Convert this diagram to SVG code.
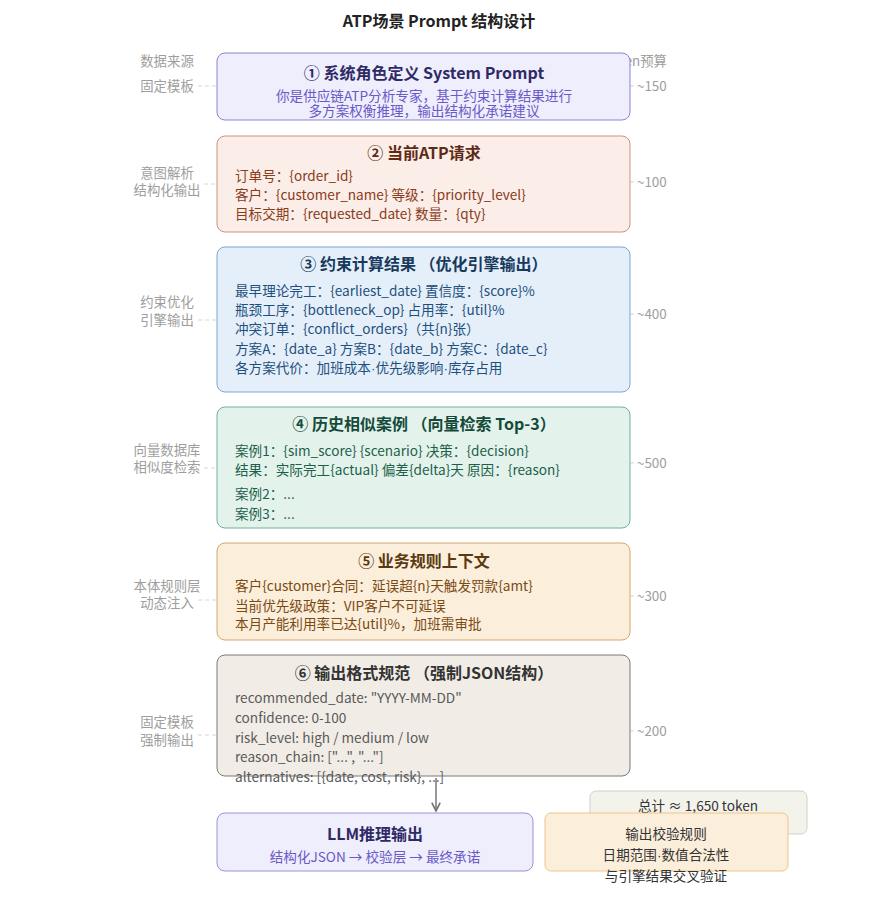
<svg xmlns="http://www.w3.org/2000/svg" width="879" height="918" viewBox="0 0 879 918">
<style>
text{font-family:"Noto Sans CJK SC","Liberation Sans",sans-serif}
.title{font-size:16px;font-weight:bold;fill:#222;text-anchor:middle}
.bt{font-size:16px;font-weight:bold;text-anchor:middle}
.ln{font-size:13.6px}
.side{font-size:13.4px;fill:#9e9e9e}
.dot{font-family:"Liberation Sans",sans-serif}
.dash{stroke:#d6d6d6;stroke-width:1;stroke-dasharray:4 3;fill:none}
</style>
<defs>
<marker id="ah" viewBox="0 0 10 10" refX="9" refY="5" markerWidth="7" markerHeight="7" orient="auto"><path d="M1,1 L9,5 L1,9" fill="none" stroke="#777" stroke-width="1.6"/></marker>
</defs>
<rect width="879" height="918" fill="#fff"/>
<text class="title" x="439" y="27">ATP场景 Prompt 结构设计</text>
<g id="headers">
<text class="side" x="167" y="66" text-anchor="middle">数据来源</text>
<text class="side" x="667" y="66" text-anchor="end">Token预算</text>
</g>
<g id="connectors">
<line class="dash" x1="198" y1="86" x2="217" y2="86"/><line class="dash" x1="630" y1="86" x2="637" y2="86"/>
<line class="dash" x1="204" y1="184" x2="217" y2="184"/><line class="dash" x1="630" y1="182" x2="637" y2="182"/>
<line class="dash" x1="198" y1="320" x2="217" y2="320"/><line class="dash" x1="630" y1="314" x2="637" y2="314"/>
<line class="dash" x1="204" y1="468" x2="217" y2="468"/><line class="dash" x1="630" y1="463" x2="637" y2="463"/>
<line class="dash" x1="198" y1="600" x2="217" y2="600"/><line class="dash" x1="630" y1="596" x2="637" y2="596"/>
<line class="dash" x1="198" y1="735" x2="217" y2="735"/><line class="dash" x1="630" y1="731" x2="637" y2="731"/>
<line x1="436" y1="778" x2="436" y2="811" stroke="#777" stroke-width="1.5" marker-end="url(#ah)"/>
</g>
<g id="n1">
<rect x="217" y="53" width="413" height="67" rx="8" fill="#eeeefc" stroke="#8b83d9"/>
<text class="bt" x="424" y="79" fill="#2f2a66">① 系统角色定义 System Prompt</text>
<text class="ln" x="424" y="101" text-anchor="middle" fill="#6a5ac8">你是供应链ATP分析专家，基于约束计算结果进行</text>
<text class="ln" x="424" y="116" text-anchor="middle" fill="#6a5ac8">多方案权衡推理，输出结构化承诺建议</text>
<text class="side" x="167" y="91" text-anchor="middle">固定模板</text>
<text class="side" x="637" y="91">~150</text>
</g>
<g id="n2">
<rect x="217" y="136" width="413" height="96" rx="8" fill="#fbede7" stroke="#cf937c"/>
<text class="bt" x="424" y="159" fill="#5e2a14">② 当前ATP请求</text>
<text class="ln" fill="#8a3b1b" x="235" y="181">订单号：{order_id}</text>
<text class="ln" fill="#8a3b1b" x="235" y="200">客户：{customer_name} 等级：{priority_level}</text>
<text class="ln" fill="#8a3b1b" x="235" y="219">目标交期：{requested_date} 数量：{qty}</text>
<text class="side" x="167" y="178" text-anchor="middle">意图解析</text>
<text class="side" x="167" y="195" text-anchor="middle">结构化输出</text>
<text class="side" x="637" y="187">~100</text>
</g>
<g id="n3">
<rect x="217" y="247" width="413" height="145" rx="8" fill="#e4effa" stroke="#7aa7d9"/>
<text class="bt" x="424" y="270" fill="#173a5c">③ 约束计算结果 （优化引擎输出）</text>
<text class="ln" fill="#1f4f7d" x="235" y="296">最早理论完工：{earliest_date} 置信度：{score}%</text>
<text class="ln" fill="#1f4f7d" x="235" y="315">瓶颈工序：{bottleneck_op} 占用率：{util}%</text>
<text class="ln" fill="#1f4f7d" x="235" y="334">冲突订单：{conflict_orders}（共{n}张）</text>
<text class="ln" fill="#1f4f7d" x="235" y="354">方案A：{date_a} 方案B：{date_b} 方案C：{date_c}</text>
<text class="ln" fill="#1f4f7d" x="235" y="373">各方案代价：加班成本<tspan class="dot">·</tspan>优先级影响<tspan class="dot">·</tspan>库存占用</text>
<text class="side" x="167" y="307" text-anchor="middle">约束优化</text>
<text class="side" x="167" y="325" text-anchor="middle">引擎输出</text>
<text class="side" x="637" y="319">~400</text>
</g>
<g id="n4">
<rect x="217" y="407" width="413" height="121" rx="8" fill="#e3f3ec" stroke="#6cb19b"/>
<text class="bt" x="424" y="430" fill="#154a3a">④ 历史相似案例 （向量检索 Top-3）</text>
<text class="ln" fill="#1e5f4b" x="235" y="456">案例1：{sim_score} {scenario} 决策：{decision}</text>
<text class="ln" fill="#1e5f4b" x="235" y="475">结果：实际完工{actual} 偏差{delta}天 原因：{reason}</text>
<text class="ln" fill="#1e5f4b" x="235" y="499">案例2：...</text>
<text class="ln" fill="#1e5f4b" x="235" y="519">案例3：...</text>
<text class="side" x="167" y="455" text-anchor="middle">向量数据库</text>
<text class="side" x="167" y="472" text-anchor="middle">相似度检索</text>
<text class="side" x="637" y="468">~500</text>
</g>
<g id="n5">
<rect x="217" y="543" width="413" height="97" rx="8" fill="#fbeedb" stroke="#d7a66c"/>
<text class="bt" x="424" y="567" fill="#5a3810">⑤ 业务规则上下文</text>
<text class="ln" fill="#7a4a12" x="235" y="591">客户{customer}合同：延误超{n}天触发罚款{amt}</text>
<text class="ln" fill="#7a4a12" x="235" y="611">当前优先级政策：VIP客户不可延误</text>
<text class="ln" fill="#7a4a12" x="235" y="629">本月产能利用率已达{util}%，加班需审批</text>
<text class="side" x="167" y="591" text-anchor="middle">本体规则层</text>
<text class="side" x="167" y="608" text-anchor="middle">动态注入</text>
<text class="side" x="637" y="601">~300</text>
</g>
<g id="n6">
<rect x="217" y="655" width="413" height="121" rx="8" fill="#f1ede6" stroke="#7a7a7a"/>
<text class="bt" x="424" y="679" fill="#333">⑥ 输出格式规范 （强制JSON结构）</text>
<text class="ln" fill="#5a5a5a" x="235" y="703">recommended_date: "YYYY-MM-DD"</text>
<text class="ln" fill="#5a5a5a" x="235" y="723">confidence: 0-100</text>
<text class="ln" fill="#5a5a5a" x="235" y="743">risk_level: high / medium / low</text>
<text class="ln" fill="#5a5a5a" x="235" y="762">reason_chain: ["...", "..."]</text>
<text class="ln" fill="#5a5a5a" x="235" y="782">alternatives: [{date, cost, risk}, ...]</text>
<text class="side" x="167" y="727" text-anchor="middle">固定模板</text>
<text class="side" x="167" y="745" text-anchor="middle">强制输出</text>
<text class="side" x="637" y="736">~200</text>
</g>
<g id="llm">
<rect x="217" y="813" width="316" height="58" rx="8" fill="#eeeefc" stroke="#9a92dc"/>
<text class="bt" x="375" y="840" fill="#2f2a66">LLM推理输出</text>
<text class="ln" x="375" y="862" text-anchor="middle" fill="#6a5ac8">结构化JSON → 校验层 → 最终承诺</text>
</g>
<g id="total">
<rect x="590" y="791" width="217" height="43" rx="6" fill="#f3f3ec" stroke="#d0d0cc"/>
<text class="ln" x="698" y="811" text-anchor="middle" fill="#333">总计 ≈ 1,650 token</text>
</g>
<g id="validate">
<rect x="545" y="813" width="243" height="58" rx="6" fill="#fbeedb" stroke="#f0c587"/>
<text class="ln" x="666" y="839" text-anchor="middle" fill="#333">输出校验规则</text>
<text class="ln" x="666" y="860" text-anchor="middle" fill="#333">日期范围<tspan class="dot">·</tspan>数值合法性</text>
<text class="ln" x="666" y="881" text-anchor="middle" fill="#333">与引擎结果交叉验证</text>
</g>
</svg>
